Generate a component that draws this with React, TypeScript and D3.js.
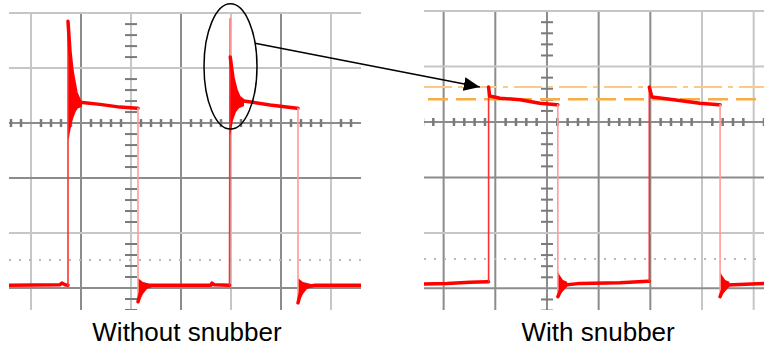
import * as d3 from "d3";

type Pt = [number, number];
type Ring = [number, number, number];

const W = 764;
const H = 349;

const panelLabels = ["Without snubber", "With snubber"];

// scope trace, [time div, volt div]
const traceWithout: Pt[] = [
  [-2.44, -2.95], [-1.42, -2.94], [-1.38, -2.91], [-1.32, -2.94], [-1.26, -2.95],
  [-1.26, 1.85], [-1.22, 1.3], [-1.18, 0.95], [-1.1, 0.55], [-1.02, 0.38],
  [-0.62, 0.34], [-0.22, 0.29], [0.12, 0.27], [0.14, 0.27],
  [0.14, -3.25], [0.2, -3.05], [0.28, -2.98], [0.4, -2.95],
  [1.6, -2.95], [1.62, -2.91], [1.66, -2.94], [1.97, -2.95],
  [1.98, 1.89], [1.985, 1.2], [2.04, 0.82], [2.1, 0.6], [2.16, 0.47], [2.26, 0.4],
  [2.78, 0.33], [3.32, 0.27], [3.34, 0.27],
  [3.34, -3.27], [3.4, -3.05], [3.48, -2.98], [3.68, -2.95], [4.6, -2.95],
];

const traceWith: Pt[] = [
  [-2.38, -2.92], [-1.93, -2.91], [-1.49, -2.89], [-1.15, -2.88], [-1.13, -2.88],
  [-1.13, 0.63], [-1.11, 0.47], [-0.91, 0.43], [-0.52, 0.4], [-0.14, 0.34], [0.19, 0.31], [0.21, 0.31],
  [0.21, -3.15], [0.27, -3.03], [0.35, -2.94], [0.64, -2.91], [1.41, -2.9], [1.95, -2.87], [1.98, -2.87],
  [1.98, 0.63], [2.03, 0.45], [2.38, 0.41], [2.96, 0.34], [3.33, 0.31], [3.35, 0.31],
  [3.35, -3.15], [3.4, -3.03], [3.48, -2.94], [4.2, -2.91],
];

// ringing envelopes: [time, upper, lower]
const ringsWithout: Ring[][] = [
  [[-1.26, 1.84, -0.31], [-1.24, 1.69, -0.27], [-1.22, 1.24, -0.16], [-1.18, 0.96, 0.02],
   [-1.14, 0.71, 0.13], [-1.1, 0.56, 0.22], [-1.06, 0.47, 0.27], [-0.98, 0.4, 0.29]],
  [[0.14, -2.82, -3.27], [0.18, -2.85, -3.22], [0.24, -2.89, -3.11], [0.32, -2.91, -3.02], [0.42, -2.93, -2.98]],
  [[1.98, 1.2, -0.22], [2.0, 1.11, -0.16], [2.04, 0.82, 0.05], [2.1, 0.6, 0.2],
   [2.16, 0.47, 0.27], [2.26, 0.4, 0.31]],
  [[3.34, -2.82, -3.27], [3.38, -2.85, -3.22], [3.44, -2.89, -3.11], [3.52, -2.91, -3.02], [3.62, -2.93, -2.98]],
];

const ringsWith: Ring[][] = [
  [[0.21, -2.7, -3.15], [0.25, -2.77, -3.12], [0.31, -2.85, -3.05], [0.39, -2.88, -2.97]],
  [[3.35, -2.7, -3.15], [3.39, -2.77, -3.12], [3.45, -2.85, -3.05], [3.53, -2.88, -2.97]],
];

// snubber reference levels (peak, plateau)
const snubberLevels = [0.63, 0.41];

const gridT = [-2, -1, 0, 1, 2, 3, 4];
const gridV = [2, 1, 0, -1, -2, -3];
const dottedLevel = [-2.49, -2.47];
const labelT = [1.12, 0.99];

// annotation: ellipse round the second spike, arrow to the snubbed peak
const ellipseCenter: Pt = [1.99, 1.03];
const ellipseRadius: Pt = [0.53, 1.14];
const arrowFrom: Pt = [2.48, 1.45];
const arrowTo: Pt = [-1.3, 0.63];

const layout = [
  { x: [9, 361], y: [12, 310], t: [-2.44, 4.6], v: [-3.4, 2.02], darkT: [-1, 1, 3], darkV: [0, -1, -3] },
  { x: [424, 764], y: [10, 310], t: [-2.38, 4.2], v: [-3.39, 2.02], darkT: [-2, -1, 0, 1, 2], darkV: [0, -1, -3] },
];

const dark = "#8c8c8c";
const light = "#c6c6c6";

const Panel = ({ idx, trace, rings }: { idx: number; trace: Pt[]; rings: Ring[][] }) => {
  const L = layout[idx];
  const xs = d3.scaleLinear().domain(L.t).range(L.x);
  const ys = d3.scaleLinear().domain(L.v).range([L.y[1], L.y[0]]);

  // split trace into level runs and fast edges
  const runs: { edge: boolean; up: boolean; pts: Pt[] }[] = [];
  for (let i = 1; i < trace.length; i++) {
    const a = trace[i - 1], b = trace[i];
    const dx = Math.abs(xs(b[0]) - xs(a[0]));
    const dy = ys(b[1]) - ys(a[1]);
    const edge = dx < 2 && Math.abs(dy) > 20;
    const up = dy < 0;
    const last = runs[runs.length - 1];
    if (last && last.edge === edge && (!edge || last.up === up)) last.pts.push(b);
    else runs.push({ edge, up, pts: [a, b] });
  }

  const line = d3.line<Pt>().x(d => xs(d[0])).y(d => ys(d[1]));
  const area = d3.area<Ring>().x(d => xs(d[0])).y0(d => ys(d[2])).y1(d => ys(d[1]));

  const minorV = d3.range(-3.4, 2.05, 0.2).filter(v => Math.abs(v - Math.round(v)) > 0.05);
  const minorT = d3.range(-2.4, 4.6, 0.2).filter(t => Math.abs(t - Math.round(t)) > 0.05);

  return (
    <g>
      <clipPath id={`clip${idx}`}>
        <rect x={L.x[0]} y={L.y[0]} width={L.x[1] - L.x[0]} height={L.y[1] - L.y[0]} />
      </clipPath>
      <g clipPath={`url(#clip${idx})`}>
        <line x1={L.x[0]} x2={L.x[1]} y1={L.y[0]} y2={L.y[0]} stroke="#e4e4e4" strokeWidth={1} />
        {gridT.map(t => (
          <line key={`t${t}`} x1={xs(t)} x2={xs(t)} y1={L.y[0]} y2={L.y[1]}
            stroke={L.darkT.includes(t) ? dark : light} strokeWidth={2} />
        ))}
        {gridV.map(v => (
          <line key={`v${v}`} x1={L.x[0]} x2={L.x[1]} y1={ys(v)} y2={ys(v)}
            stroke={L.darkV.includes(v) ? dark : light} strokeWidth={2} />
        ))}
        <line x1={L.x[0]} x2={L.x[1]} y1={ys(dottedLevel[idx])} y2={ys(dottedLevel[idx])}
          stroke="#b8b8b8" strokeWidth={2} strokeDasharray="2,8" />
        {minorV.map(v => (
          <line key={`mv${v}`} x1={xs(0) - 6} x2={xs(0) + 6} y1={ys(v)} y2={ys(v)} stroke="#7a7a7a" strokeWidth={2} />
        ))}
        {minorT.map(t => (
          <line key={`mt${t}`} x1={xs(t)} x2={xs(t)} y1={ys(0) - 4} y2={ys(0) + 4} stroke="#7a7a7a" strokeWidth={2.5} />
        ))}
        {idx === 1 && (
          <>
            <line x1={L.x[0]} x2={L.x[1]} y1={ys(snubberLevels[0])} y2={ys(snubberLevels[0])}
              stroke="#fcc98a" strokeWidth={2} strokeDasharray="28,6,5,6" />
            <line x1={L.x[0] + 4} x2={L.x[1]} y1={ys(snubberLevels[1])} y2={ys(snubberLevels[1])}
              stroke="#f8ae45" strokeWidth={2.5} strokeDasharray="20,8" />
          </>
        )}
        {rings.map((r, i) => (
          <path key={`r${i}`} d={area(r) ?? ""} fill="#ff0000" />
        ))}
        {runs.map((r, i) => (
          <path key={`s${i}`} d={line(r.pts) ?? ""} fill="none"
            stroke={r.edge ? (r.up ? "#ff3030" : "#ff9a9a") : "#ff0000"}
            strokeWidth={r.edge ? 1.6 : 3.5} strokeLinejoin="round" strokeLinecap="round" />
        ))}
      </g>
      <text x={xs(labelT[idx])} y={341} textAnchor="middle" fontSize={26}
        fontFamily="'Liberation Sans', Arial, sans-serif" fill="#000">
        {panelLabels[idx]}
      </text>
    </g>
  );
};

const App = () => {
  const L0 = layout[0], L1 = layout[1];
  const x0 = d3.scaleLinear().domain(L0.t).range(L0.x);
  const y0 = d3.scaleLinear().domain(L0.v).range([L0.y[1], L0.y[0]]);
  const x1 = d3.scaleLinear().domain(L1.t).range(L1.x);
  const y1 = d3.scaleLinear().domain(L1.v).range([L1.y[1], L1.y[0]]);

  return (
    <svg width={W} height={H} style={{ position: "absolute", left: 0, top: 0, background: "#fff" }}>
      <defs>
        <marker id="head" markerUnits="userSpaceOnUse" markerWidth={16} markerHeight={14}
          refX={16} refY={7} orient="auto">
          <path d="M0,0 L16,7 L0,14 Z" fill="#000" />
        </marker>
      </defs>
      <rect width={W} height={H} fill="#fff" />
      <Panel idx={0} trace={traceWithout} rings={ringsWithout} />
      <Panel idx={1} trace={traceWith} rings={ringsWith} />
      <ellipse cx={x0(ellipseCenter[0])} cy={y0(ellipseCenter[1])}
        rx={x0(ellipseCenter[0] + ellipseRadius[0]) - x0(ellipseCenter[0])}
        ry={y0(ellipseCenter[1]) - y0(ellipseCenter[1] + ellipseRadius[1])}
        fill="none" stroke="#000" strokeWidth={1.5} />
      <line x1={x0(arrowFrom[0])} y1={y0(arrowFrom[1])} x2={x1(arrowTo[0])} y2={y1(arrowTo[1])}
        stroke="#000" strokeWidth={1.5} markerEnd="url(#head)" />
    </svg>
  );
};

export default App;
